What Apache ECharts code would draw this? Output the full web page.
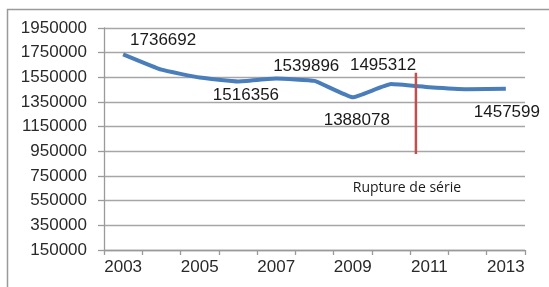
<!DOCTYPE html>
<html>
<head>
<meta charset="utf-8">
<script src="https://cdn.jsdelivr.net/npm/echarts@6/dist/echarts.min.js"></script>
<style>
  html, body { margin: 0; padding: 0; background: #fff; }
  #chart { width: 549px; height: 287px; }
</style>
</head>
<body>
<div id="chart"></div>
<script>
const years = ['2003', '2004', '2005', '2006', '2007', '2008', '2009', '2010', '2011', '2012', '2013'];
const values = [1736692, 1612000, 1548000, 1516356, 1539896, 1521000, 1388078, 1495312, 1470000, 1454000, 1457599];
// which points carry a value label
const labelled = [0, 3, 4, 6, 7, 10];
// "rupture de série" marker (x in years, y in values)
const breakX = [2010.65, 2010.65];
const breakY = [1588000, 928000];
const breakText = 'Rupture de série';

const yMin = 150000, yMax = 1950000, yStep = 200000;

// label placement per point (top/bottom + nudge)
const labelPos = {
  0: ['top', [40, 1]],
  3: ['bottom', [8, -1]],
  4: ['top', [30, 2]],
  6: ['bottom', [4, 9]],
  7: ['top', [-8, -4]],
  10: ['bottom', [1, 9]]
};

const lineData = values.map((v, i) => {
  if (labelled.indexOf(i) < 0) return v;
  const p = labelPos[i];
  return {
    value: v,
    label: { show: true, position: p[0], offset: p[1] }
  };
});

const chart = echarts.init(document.getElementById('chart'));

const font = 'Liberation Sans, Arial, sans-serif';
const clear = 'rgba(0,0,0,0)';

chart.setOption({
  animation: false,
  graphic: [{
    type: 'rect',
    shape: { x: 7.5, y: 9.5, width: 700, height: 400 },
    style: { fill: 'none', stroke: '#9a9a9a', lineWidth: 1.5 },
    silent: true
  }],
  grid: { left: 104, right: 24, top: 28, bottom: 37 },
  xAxis: [{
    type: 'category',
    data: years,
    boundaryGap: true,
    axisLine: { lineStyle: { color: '#9a9a9a', width: 1.3 } },
    axisTick: { show: true, interval: 0, length: 5, lineStyle: { color: '#9a9a9a', width: 1.3 } },
    axisLabel: { interval: 1, margin: 9, color: '#2a2a2a', fontSize: 17, fontFamily: font },
    splitLine: { show: false }
  }, {
    type: 'value',
    min: 2002.5,
    max: 2013.5,
    show: false
  }],
  yAxis: {
    type: 'value',
    min: yMin,
    max: yMax,
    interval: yStep,
    axisLine: { show: true, lineStyle: { color: '#9a9a9a', width: 1.3 } },
    axisTick: { show: true, length: 6, lineStyle: { color: '#9a9a9a', width: 1.3 } },
    axisLabel: { margin: 17, color: '#2a2a2a', fontSize: 17, fontFamily: font, formatter: v => String(v) },
    splitLine: { lineStyle: { color: '#a6a6a6', width: 1.3 } }
  },
  series: [{
    type: 'line',
    data: lineData,
    smooth: 0.1,
    showSymbol: true,
    symbol: 'circle',
    symbolSize: 1,
    itemStyle: { color: clear, borderColor: clear },
    lineStyle: { color: '#4a7ebb', width: 4 },
    label: { show: false, color: '#1a1a1a', fontSize: 17, fontFamily: font, distance: 5, formatter: p => String(p.value) },
    z: 3
  }, {
    type: 'line',
    xAxisIndex: 1,
    data: breakX.map((x, i) => i === 1 ? {
      value: [x, breakY[i]],
      label: {
        show: true,
        position: 'bottom',
        offset: [-9, 21],
        formatter: breakText,
        color: '#1a1a1a',
        fontSize: 14,
        fontFamily: 'Open Sans, sans-serif'
      }
    } : [x, breakY[i]]),
    showSymbol: true,
    symbol: 'circle',
    symbolSize: 1,
    itemStyle: { color: clear, borderColor: clear },
    lineStyle: { color: '#c0504d', width: 2.5 },
    z: 4
  }]
});
</script>
</body>
</html>
